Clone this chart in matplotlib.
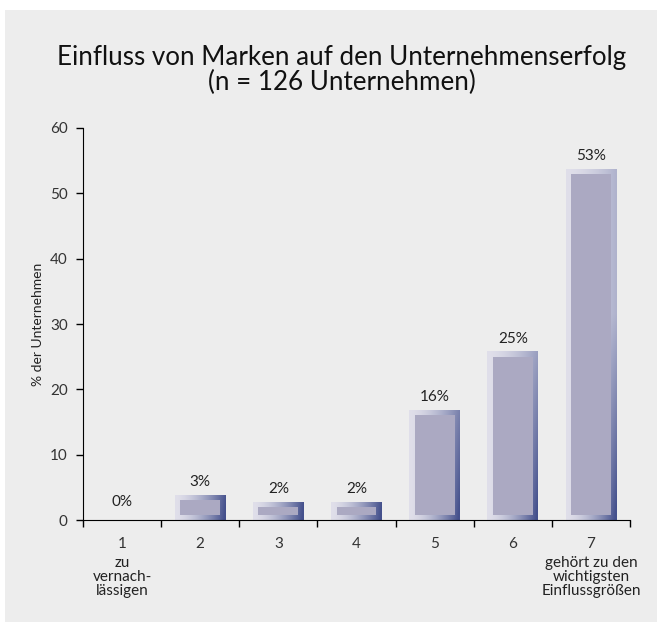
import numpy as np
import matplotlib.pyplot as plt
from matplotlib.patches import Rectangle

plt.rcParams['font.family'] = ['Lato', 'DejaVu Sans']

# data
categories = [1, 2, 3, 4, 5, 6, 7]
values = [0, 3, 2, 2, 16, 25, 53]
value_labels = ['0%', '3%', '2%', '2%', '16%', '25%', '53%']
tick_labels = ['1', '2', '3', '4', '5', '6', '7']
extra_labels = {1: 'zu\nvernach-\nlässigen', 7: 'gehört zu den\nwichtigsten\nEinflussgrößen'}

title = 'Einfluss von Marken auf den Unternehmenserfolg\n(n = 126 Unternehmen)'
ylabel = '% der Unternehmen'

panel = '#ededed'
inner_col = '#aba9c2'
light = np.array([224, 223, 234]) / 255
dark = np.array([68, 80, 140]) / 255

fig = plt.figure(figsize=(6.57, 6.22), dpi=100)
fig.patch.set_facecolor('white')
fig.patches.append(Rectangle((4.5 / 657, 0), 1, 1 - 10 / 622, transform=fig.transFigure,
                             facecolor=panel, edgecolor='none', zorder=-10))

ax = fig.add_axes([83 / 657, 102 / 622, 547 / 657, 392 / 622])
ax.set_facecolor('none')

outer_w = 0.65
inner_w = 0.51
pad = 0.8

for x, v in zip(categories, values):
    if v <= 0:
        continue
    x0, x1 = x - outer_w / 2, x + outer_w / 2
    top = v + pad
    # gradient frame: light on the upper left, dark blue towards lower right
    xs = np.linspace(0, 1, 60)
    ys = np.linspace(top, 0, 200)
    xf, yf = np.meshgrid(xs, ys)
    yb = np.clip(1 - yf / 45, 0.3, 1)
    t = np.clip(xf ** 1.6 * yb * 1.05, 0, 1)
    img = light[None, None, :] * (1 - t[..., None]) + dark[None, None, :] * t[..., None]
    clip = Rectangle((x0, 0), outer_w, top, transform=ax.transData, facecolor='none', edgecolor='none')
    ax.add_patch(clip)
    im = ax.imshow(img, extent=[x0, x1, 0, top], aspect='auto', zorder=2, interpolation='bilinear')
    im.set_clip_path(clip)
    ax.bar(x, v - pad, width=inner_w, bottom=pad, color=inner_col, zorder=3)

for x, v, lab in zip(categories, values, value_labels):
    ax.text(x, v + 1.7, lab, ha='center', va='bottom', fontsize=11, color='#222222', zorder=4)

ax.set_xlim(0.5, 7.5)
ax.set_ylim(0, 60)
ax.set_yticks(range(0, 61, 10))
ax.tick_params(axis='y', direction='out', length=5, labelsize=11, width=1, pad=6, labelcolor='#333333')

ax.set_xticks(np.arange(0.5, 8, 1))
ax.set_xticklabels([])
ax.tick_params(axis='x', which='major', direction='out', length=5, width=1)
ax.set_xticks(categories, minor=True)
ax.set_xticklabels(tick_labels, minor=True)
ax.tick_params(axis='x', which='minor', length=0, labelsize=11, pad=12, labelcolor='#333333')

for x, txt in extra_labels.items():
    ax.text(x, -0.092, txt, transform=ax.get_xaxis_transform(), ha='center', va='top',
            fontsize=11, linespacing=1.0, color='#222222')

ax.spines['top'].set_visible(False)
ax.spines['right'].set_visible(False)
ax.set_ylabel(ylabel, fontsize=10, labelpad=4, color='#222222')

fig.text(342 / 657, 1 - 70 / 622, title, ha='center', va='center', fontsize=18.7, linespacing=1.0,
         color='#111111')

fig.savefig('out.png', dpi=100)
